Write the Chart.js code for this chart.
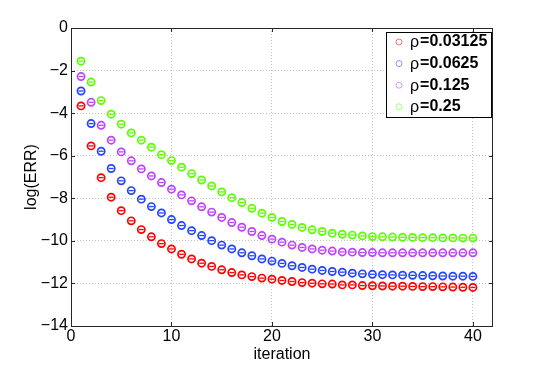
<!DOCTYPE html>
<html>
<head>
<meta charset="utf-8">
<script src="https://cdn.jsdelivr.net/npm/chart.js@4"></script>
<style>
  body { margin: 0; background: #fff; }
</style>
</head>
<body>
<canvas id="errChart" width="545" height="367"></canvas>
<script>
// iteration numbers on the x axis
const iterations = Array.from({ length: 40 }, (_, i) => i + 1);

// log(ERR), one array per rho
const rho003125 = [-3.66, -5.54, -7.03, -7.95, -8.58, -9.06, -9.47, -9.81, -10.13, -10.38,
  -10.63, -10.85, -11.05, -11.20, -11.36, -11.49, -11.60, -11.68, -11.75, -11.80,
  -11.86, -11.91, -11.96, -11.99, -12.02, -12.03, -12.07, -12.07, -12.10, -12.11,
  -12.12, -12.13, -12.13, -12.14, -12.15, -12.15, -12.16, -12.17, -12.18, -12.19];
const rho00625 = [-2.96, -4.49, -5.79, -6.60, -7.18, -7.64, -8.04, -8.39, -8.69, -9.00,
  -9.28, -9.52, -9.75, -9.99, -10.20, -10.38, -10.56, -10.70, -10.85, -10.95,
  -11.06, -11.17, -11.25, -11.33, -11.39, -11.44, -11.47, -11.52, -11.55, -11.57,
  -11.59, -11.60, -11.61, -11.62, -11.63, -11.64, -11.65, -11.66, -11.66, -11.67];
const rho0125 = [-2.28, -3.49, -4.57, -5.27, -5.82, -6.24, -6.62, -6.95, -7.26, -7.57,
  -7.84, -8.12, -8.40, -8.65, -8.90, -9.14, -9.36, -9.56, -9.75, -9.92,
  -10.06, -10.20, -10.31, -10.38, -10.44, -10.48, -10.52, -10.53, -10.55, -10.55,
  -10.56, -10.56, -10.56, -10.56, -10.56, -10.56, -10.56, -10.56, -10.56, -10.56];
const rho025 = [-1.56, -2.54, -3.41, -4.05, -4.52, -4.93, -5.27, -5.60, -5.95, -6.23,
  -6.54, -6.84, -7.14, -7.42, -7.70, -7.97, -8.20, -8.47, -8.70, -8.90,
  -9.09, -9.23, -9.37, -9.48, -9.56, -9.64, -9.69, -9.73, -9.77, -9.80,
  -9.81, -9.82, -9.83, -9.84, -9.85, -9.85, -9.86, -9.86, -9.87, -9.87];

const seriesLabels = ['0.03125', '0.0625', '0.125', '0.25'];
const seriesValues = [rho003125, rho00625, rho0125, rho025];
const seriesColors = ['#ff0000', '#2343ff', '#bd43ff', '#5cff00'];

const xTicks = [0, 10, 20, 30, 40];
const yTicks = [0, -2, -4, -6, -8, -10, -12, -14];

const FONT = 'Liberation Sans, Arial, Helvetica, sans-serif';

// every series gets an open circle plus a short bar through it (the ⊖ marker)
const datasets = [];
seriesValues.forEach((vals, i) => {
    const pts = iterations.map((it, k) => ({ x: it, y: vals[k] }));
    datasets.push({
        label: 'ρ=' + seriesLabels[i],
        data: pts,
        showLine: false,
        pointStyle: 'circle',
        pointRadius: 3.6,
        pointBorderWidth: 1.7,
        pointBorderColor: seriesColors[i],
        pointBackgroundColor: 'rgba(0,0,0,0)'
    });
    datasets.push({
        label: '_bar' + i,
        data: pts,
        showLine: false,
        pointStyle: 'line',
        pointRadius: 2.4,
        pointBorderWidth: 1.3,
        pointBorderColor: seriesColors[i]
    });
});

// axis box, inner tick marks and the legend, MATLAB style
const matlabFrame = {
    id: 'matlabFrame',
    afterDatasetsDraw(chart) {
        const { ctx, chartArea: a, scales } = chart;
        ctx.save();
        ctx.strokeStyle = '#262626';
        ctx.lineWidth = 1;
        ctx.strokeRect(a.left + 0.5, a.top + 0.5, a.right - a.left - 1, a.bottom - a.top);
        ctx.beginPath();
        xTicks.forEach(v => {
            const px = Math.round(scales.x.getPixelForValue(v)) + 0.5;
            ctx.moveTo(px, a.bottom); ctx.lineTo(px, a.bottom - 4);
            ctx.moveTo(px, a.top); ctx.lineTo(px, a.top + 4);
        });
        yTicks.forEach(v => {
            const py = Math.round(scales.y.getPixelForValue(v)) + 0.5;
            ctx.moveTo(a.left, py); ctx.lineTo(a.left + 4, py);
            ctx.moveTo(a.right, py); ctx.lineTo(a.right - 4, py);
        });
        ctx.stroke();
        ctx.restore();
    },
    afterDraw(chart) {
        const ctx = chart.ctx;
        const box = { x: 386, y: 32, w: 105, h: 85 };
        ctx.save();
        ctx.fillStyle = '#ffffff';
        ctx.fillRect(box.x, box.y, box.w, box.h);
        ctx.strokeStyle = '#000000';
        ctx.lineWidth = 1;
        ctx.strokeRect(box.x + 0.5, box.y + 0.5, box.w, box.h);
        ctx.textBaseline = 'middle';
        seriesLabels.forEach((lab, i) => {
            const cy = 42 + i * 21.6;
            ctx.beginPath();
            ctx.arc(399, cy, 3, 0, Math.PI * 2);
            ctx.strokeStyle = seriesColors[i];
            ctx.globalAlpha = 0.55;
            ctx.lineWidth = 1;
            ctx.stroke();
            ctx.globalAlpha = 1;
            ctx.fillStyle = '#000000';
            ctx.font = '16px ' + FONT;
            ctx.fillText('ρ', 410, cy + 1);
            const rw = ctx.measureText('ρ').width;
            ctx.font = 'bold 16px ' + FONT;
            ctx.fillText('=' + lab, 410 + rw + 1, cy);
        });
        ctx.restore();
    }
};

new Chart(document.getElementById('errChart'), {
    type: 'scatter',
    data: { datasets: datasets },
    options: {
        responsive: false,
        animation: false,
        layout: { padding: { left: 0, top: 28, right: 52, bottom: 0 } },
        plugins: {
            legend: { display: false },
            tooltip: { enabled: false }
        },
        scales: {
            x: {
                type: 'linear',
                min: 0,
                max: 42,
                afterFit: function(scale) { scale.height = 41; },
                afterBuildTicks: function(scale) { scale.ticks = xTicks.map(v => ({ value: v })); },
                ticks: { color: '#000', font: { family: FONT, size: 16 }, padding: 1, maxRotation: 0 },
                grid: {
                    color: ctx => (ctx.tick && ctx.tick.value === 0) ? 'rgba(0,0,0,0)' : '#c4c4c4',
                    drawTicks: false
                },
                border: { display: false, dash: [1, 2] },
                title: { display: true, text: 'iteration', color: '#000', font: { family: FONT, size: 16 }, padding: { top: 0, bottom: 3 } }
            },
            y: {
                min: -14,
                max: 0,
                afterFit: function(scale) { scale.width = 71; },
                afterBuildTicks: function(scale) { scale.ticks = yTicks.map(v => ({ value: v })); },
                ticks: {
                    color: '#000',
                    font: { family: FONT, size: 16 },
                    padding: 3,
                    callback: v => v < 0 ? '\u2212' + Math.abs(v) : String(v)
                },
                grid: {
                    color: ctx => (ctx.tick && (ctx.tick.value === 0 || ctx.tick.value === -14)) ? 'rgba(0,0,0,0)' : '#c4c4c4',
                    drawTicks: false
                },
                border: { display: false, dash: [1, 2] },
                title: { display: true, text: 'log(ERR)', color: '#000', font: { family: FONT, size: 16 }, padding: { top: 22, bottom: 0 } }
            }
        }
    },
    plugins: [matlabFrame]
});
</script>
</body>
</html>
